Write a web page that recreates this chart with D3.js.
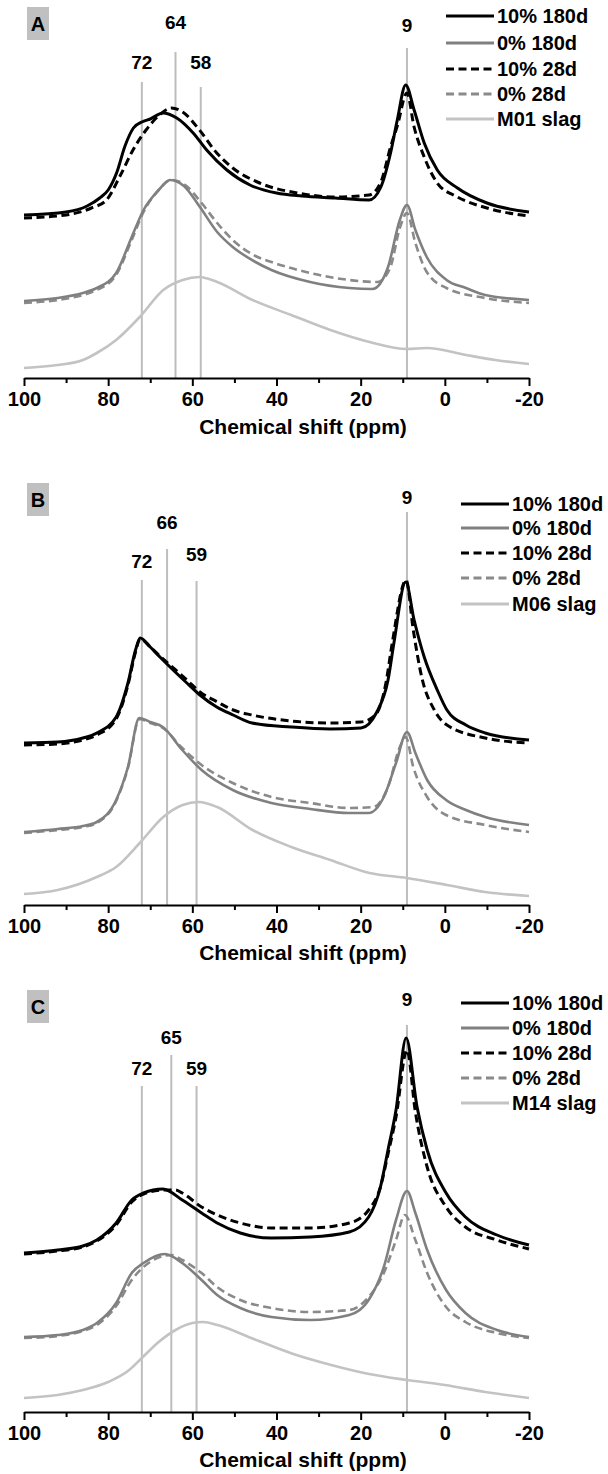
<!DOCTYPE html>
<html><head><meta charset="utf-8">
<script src="https://cdn.jsdelivr.net/npm/d3@7"></script>
<style>
html,body{margin:0;padding:0;background:#fff;}
svg{display:block;}
text{font-family:"Liberation Sans",Arial,sans-serif;font-weight:bold;fill:#000;}
</style></head>
<body>
<script>
// ---------- data (ppm, intensity in arbitrary units above baseline) ----------
const ppmTicks = [100, 80, 60, 40, 20, 0, -20];
const ppmMinorTicks = [90, 70, 50, 30, 10, -10];
const seriesNames = ["10% 180d", "0% 180d", "10% 28d", "0% 28d"];
const slagNames = ["M01 slag", "M06 slag", "M14 slag"];
const panelLetters = ["A", "B", "C"];
const peaksA = [72, 64, 58, 9];
const peaksB = [72, 66, 59, 9];
const peaksC = [72, 65, 59, 9];

// Panel A
const a_10_180d = [[100,163],[90,166],[85,172],[82,180],[80,188],[78,205],[76,232],[74,250],[72,256],[70,259],[67,265],[63.7,260],[59.8,245],[56.6,228],[51.8,208],[46.3,193],[40,185],[34,182],[26,180],[18,178],[15.2,191],[12.9,225],[11.3,258],[9.3,293],[7.3,268],[4.9,235],[1.8,208],[-3,190],[-10,175],[-20,166]];
const a_0_180d = [[100,77],[92,80],[86,85],[82.7,90],[78.1,105],[74.4,141],[71.6,168],[68,188],[65.3,198],[62,192],[58.2,171],[54.1,146],[50.4,131],[45,116],[41.2,108],[32,96],[22.7,90],[17.2,89],[13.5,111],[10.7,158],[9,173],[7,148],[4.3,121],[-0.4,98],[-5,90],[-9.6,83],[-20,78]];
const a_10_28d = [[100,160],[90,163],[84,170],[80.4,178],[77.3,201],[74.1,228],[71,248],[67.8,263],[65,270],[62.3,266],[58.3,248],[54.4,226],[50.4,210],[44,195],[35,185],[26,181],[18,183],[15.2,196],[12.9,231],[11.3,252],[9,285],[7.3,251],[4.9,221],[1.8,195],[-3,181],[-10,170],[-20,162]];
const a_0_28d = [[100,75],[92,78],[86,83],[82.7,88],[78.1,103],[74.4,138],[71.6,166],[68,188],[65,198],[62,194],[58,176],[54.1,155],[50.4,138],[45,122],[41.2,116],[32,105],[22.7,98],[16,96],[13,110],[10.7,150],[9,165],[7,135],[4.3,106],[-0.4,90],[-9.6,80],[-20,75]];
const a_slag = [[100,10],[92,13],[86,18],[82.7,25],[78.1,38],[72.5,61],[66.9,88],[62.3,98],[58.3,101],[54.1,96],[45.7,78],[36.5,63],[27.2,48],[17.9,36],[9,29],[4.3,30],[-5,23],[-12,18],[-20,14]];

// Panel B
const b_10_180d = [[100,162],[92,163],[86,167],[82.7,172],[78.1,188],[75.3,222],[73.5,255],[72.4,267],[70,258],[67.7,248],[65.3,238],[61.3,222],[58.2,210],[54.2,198],[50.3,190],[45.8,182],[36.5,178],[27.3,176],[19.9,177],[16.3,192],[13.5,225],[12.1,262],[9.3,323],[7.3,285],[4.9,248],[1.8,215],[-0.5,195],[-5,180],[-9.6,172],[-20,165]];
const b_0_180d = [[100,73],[92,76],[86,79],[82.7,83],[78.1,105],[75.3,138],[72.6,187],[70,183],[67,178],[62.4,155],[57.8,135],[50.4,115],[41.2,102],[32,96],[22.7,92],[18.1,92],[14.5,108],[11.6,142],[9,173],[7,152],[4.2,125],[-0.3,105],[-5,95],[-9.6,88],[-20,80]];
const b_10_28d = [[100,160],[92,161],[86,165],[82.7,170],[78.1,186],[75.3,220],[73.5,253],[72.4,266],[70,258],[67.7,249],[65.3,240],[61.3,225],[58.2,213],[54,203],[50.3,195],[45.8,190],[36.5,184],[27.3,182],[20,183],[16.5,190],[14,222],[12.5,262],[9.2,325],[7.5,275],[5.5,228],[2.5,195],[-0.5,180],[-9.6,167],[-20,162]];
const b_0_28d = [[100,72],[92,75],[86,78],[82.7,82],[78.1,104],[75.3,137],[72.6,186],[70,182],[67,177],[62.4,157],[57.8,140],[50.4,122],[41.2,108],[32,102],[22.7,97],[17,98],[13.5,118],[10.7,158],[9.3,168],[7.5,138],[4.2,108],[-0.3,90],[-9.6,80],[-20,73]];
const b_slag = [[100,11],[92,15],[82.7,28],[78.1,38],[72.5,62],[66.9,88],[62.3,100],[58.5,103],[54.1,98],[45.7,75],[36.5,58],[27.2,45],[17.9,32],[9,27],[-0.5,20],[-9.6,13],[-20,9]];

// Panel C
const c_10_180d = [[100,159],[92,162],[86,166],[82.7,172],[78.1,189],[74.4,212],[71.6,219],[67,223],[62.4,212],[57.8,199],[54.1,189],[48.6,179],[41.2,174],[32,175],[22.7,180],[18.1,195],[15.3,225],[13.5,262],[11.6,302],[9.2,374],[6.6,305],[4.2,262],[-0.3,219],[-4.9,195],[-12.4,177],[-20,167]];
const c_0_180d = [[100,75],[92,77],[86,82],[82.7,89],[78.1,109],[74.4,139],[71.6,149],[66.5,158],[62.4,149],[57.8,132],[54.1,117],[48.6,104],[41.2,95],[32,92],[22.7,97],[18.1,112],[14.5,145],[11.6,192],[9,221],[7,199],[4.2,162],[-0.3,122],[-4.9,99],[-12.4,82],[-20,75]];
const c_10_28d = [[100,158],[92,161],[86,165],[82.7,171],[78.1,187],[74.4,210],[71.6,218],[67,222],[64,222],[62.4,219],[57.8,205],[54.1,197],[48.6,189],[41.2,184],[32,184],[22.7,189],[18.1,202],[15.3,225],[13.5,258],[11.6,295],[9,362],[7,300],[4.2,245],[-0.3,205],[-4.9,185],[-12.4,172],[-20,163]];
const c_0_28d = [[100,74],[92,76],[86,81],[82.7,87],[78.1,106],[74.4,132],[71.6,145],[65,157],[62.4,152],[57.8,139],[54.1,125],[48.6,112],[41.2,104],[32,100],[22.7,102],[18.1,115],[14.5,139],[11.6,172],[9.5,197],[7,172],[4.2,139],[-0.3,105],[-4.9,90],[-12.4,79],[-20,74]];
const c_slag = [[100,14],[92,17],[86,22],[80,30],[75,42],[72,54],[68,70],[64,82],[60,89],[57.5,90],[54,87],[46,74],[36,58],[27,47],[18,38],[9,32],[0,27],[-9.6,20],[-20,14]];

// ---------- layout / style ----------
const W = 608, H = 1474;
const xLeft = 24, xRight = 529;
const styles = [
  {color:"#000000", dash:null, width:3},     // 10% 180d
  {color:"#808080", dash:null, width:2.6},   // 0% 180d
  {color:"#000000", dash:"8,4.5", width:3},  // 10% 28d
  {color:"#8a8a8a", dash:"8,4.5", width:2.6},// 0% 28d
  {color:"#c3c3c3", dash:null, width:2.6}    // slag
];
const panels = [
  {letter:panelLetters[0], slag:slagNames[0], axisY:378, boxY:7, titleY:426,
   series:[a_10_180d,a_0_180d,a_10_28d,a_0_28d,a_slag], peaks:peaksA,
   peakTop:[82,52,87,48], peakLabelY:[62,22,62,25],
   legX:446, legY:[16,43,69,94,119]},
  {letter:panelLetters[1], slag:slagNames[1], axisY:905, boxY:483, titleY:952,
   series:[b_10_180d,b_0_180d,b_10_28d,b_0_28d,b_slag], peaks:peaksB,
   peakTop:[580,549,581,512], peakLabelY:[561,522,554,497],
   legX:461, legY:[504,528,553,578,604]},
  {letter:panelLetters[2], slag:slagNames[2], axisY:1412, boxY:990, titleY:1459,
   series:[c_10_180d,c_0_180d,c_10_28d,c_0_28d,c_slag], peaks:peaksC,
   peakTop:[1086,1055,1086,1025], peakLabelY:[1068,1037,1068,999],
   legX:461, legY:[1003,1028,1053,1078,1103]}
];

const svg = d3.select("body").append("svg").attr("width", W).attr("height", H);
const x = d3.scaleLinear().domain([100, -20]).range([xLeft, xRight]);

panels.forEach(p => {
  const g = svg.append("g");
  const y = d3.scaleLinear().domain([0, 400]).range([p.axisY, p.axisY - 400]);

  // reference lines
  p.peaks.forEach((pk, i) => {
    g.append("line").attr("x1", x(pk)).attr("x2", x(pk))
      .attr("y1", p.peakTop[i]).attr("y2", p.axisY)
      .attr("stroke", "#bdbdbd").attr("stroke-width", 2);
    g.append("text").attr("x", x(pk)).attr("y", p.peakLabelY[i])
      .attr("text-anchor", "middle").attr("dominant-baseline", "central")
      .style("font-size", "19px").text(pk);
  });

  // curves (draw slag first, black solid last)
  const line = d3.line().x(d => x(d[0])).y(d => y(d[1])).curve(d3.curveMonotoneX);
  [4, 3, 1, 2, 0].forEach(k => {
    const st = styles[k];
    const data = p.series[k].slice().sort((a, b) => b[0] - a[0]);
    g.append("path").datum(data).attr("d", line)
      .attr("fill", "none").attr("stroke", st.color).attr("stroke-width", st.width)
      .attr("stroke-dasharray", st.dash).attr("stroke-linejoin", "round");
  });

  // axis
  const ax = g.append("g").attr("transform", `translate(0,${p.axisY})`)
    .call(d3.axisBottom(x).tickValues(ppmTicks).tickSize(8).tickSizeOuter(0).tickPadding(6)
      .tickFormat(d => String(d)));
  ax.select(".domain").attr("stroke", "#000").attr("stroke-width", 2);
  ax.selectAll(".tick line").attr("stroke", "#000").attr("stroke-width", 2);
  ax.selectAll(".tick text").style("font-size", "20px").style("font-family", '"Liberation Sans",Arial,sans-serif').style("font-weight", "bold").attr("fill", "#000");
  const axm = g.append("g").attr("transform", `translate(0,${p.axisY})`)
    .call(d3.axisBottom(x).tickValues(ppmMinorTicks).tickSize(5).tickSizeOuter(0).tickFormat(""));
  axm.select(".domain").remove();
  axm.selectAll(".tick line").attr("stroke", "#000").attr("stroke-width", 2);

  g.append("text").attr("x", 303).attr("y", p.titleY)
    .attr("text-anchor", "middle").attr("dominant-baseline", "central")
    .style("font-size", "21px").text("Chemical shift (ppm)");

  // panel letter box
  g.append("rect").attr("x", 27).attr("y", p.boxY).attr("width", 22).attr("height", 33)
    .attr("fill", "#c0c0c0");
  g.append("text").attr("x", 38).attr("y", p.boxY + 17).attr("text-anchor", "middle")
    .attr("dominant-baseline", "central").style("font-size", "20px").text(p.letter);

  // legend
  const legNames = seriesNames.concat([p.slag]);
  legNames.forEach((nm, k) => {
    const st = styles[k];
    g.append("line").attr("x1", p.legX).attr("x2", p.legX + 48)
      .attr("y1", p.legY[k]).attr("y2", p.legY[k])
      .attr("stroke", st.color).attr("stroke-width", 3).attr("stroke-dasharray", st.dash);
    g.append("text").attr("x", p.legX + 51).attr("y", p.legY[k])
      .attr("dominant-baseline", "central").style("font-size", "20px").text(nm);
  });
});
</script>
</body></html>
